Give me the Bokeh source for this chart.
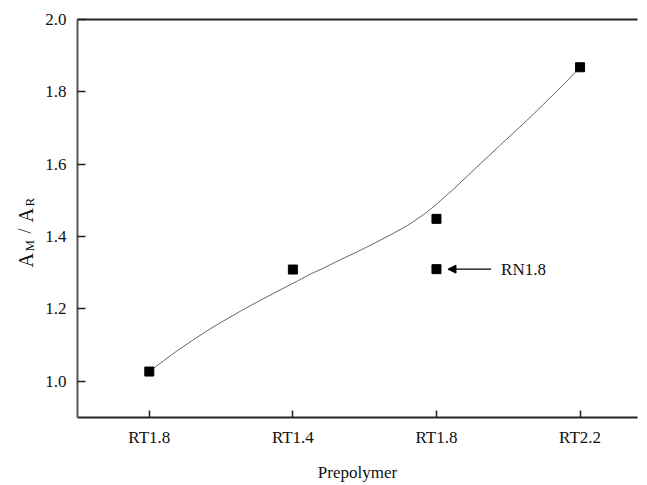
import math
from bokeh.plotting import figure
from bokeh.layouts import row
from bokeh.models import (Range1d, FixedTicker, LinearAxis, Label, Arrow, NormalHead,
                          NumeralTickFormatter)
from bokeh.core.properties import value
from bokeh.embed import file_html
from bokeh.resources import INLINE

# ---- data ----
categories = ["RT1.8", "RT1.4", "RT1.8", "RT2.2"]
cat_pos = [0, 1, 2, 3]
ratio = [1.027, 1.309, 1.449, 1.868]
rn_label = "RN1.8"
rn_pos = [2]
rn_ratio = [1.31]
curve_x = [0.0, 0.1, 0.2, 0.3, 0.4, 0.5, 0.635, 0.75, 0.865, 1.03, 1.12, 1.214, 1.33, 1.449,
           1.56, 1.681, 1.8, 1.911, 2.0, 2.05, 2.121, 2.27, 2.426, 2.659, 2.889, 3.0]
curve_y = [1.027, 1.057, 1.086, 1.113, 1.139, 1.163, 1.194, 1.219, 1.243, 1.277, 1.296, 1.313,
           1.336, 1.358, 1.380, 1.405, 1.431, 1.461, 1.489, 1.507, 1.532, 1.588, 1.646, 1.732,
           1.822, 1.868]
y_ticks = [1.0, 1.2, 1.4, 1.6, 1.8, 2.0]

FONT = "Liberation Serif"
LABEL_W = 40
TOP, BOTTOM = 19, 68  # frame borders shared by both panels

p = figure(width=647 - LABEL_W, height=485, output_backend="svg", toolbar_location=None,
           x_range=Range1d(-0.5, 3.4), y_range=Range1d(0.9, 2.0),
           min_border_left=77 - LABEL_W, min_border_right=10, min_border_top=TOP,
           min_border_bottom=BOTTOM)
p.outline_line_color = None
p.xgrid.visible = False
p.ygrid.visible = False
p.background_fill_color = "white"
p.border_fill_color = "white"

xa = p.xaxis[0]
xa.ticker = FixedTicker(ticks=cat_pos)
xa.major_label_overrides = {i: c for i, c in zip(cat_pos, categories)}
xa.minor_tick_line_color = None
xa.major_tick_in = 7
xa.major_tick_out = 0
xa.major_label_standoff = 10
xa.axis_line_width = 2
xa.axis_line_color = "#222222"
xa.major_tick_line_color = "#222222"
xa.major_tick_line_width = 1.5
xa.major_label_text_font = FONT
xa.major_label_text_font_size = "17px"
xa.major_label_text_color = "#111111"
xa.axis_label = "Prepolymer"
xa.axis_label_text_font = FONT
xa.axis_label_text_font_style = "normal"
xa.axis_label_text_font_size = "17px"
xa.axis_label_text_color = "#111111"
xa.axis_label_standoff = 13

ya = p.yaxis[0]
ya.ticker = FixedTicker(ticks=y_ticks)
ya.formatter = NumeralTickFormatter(format="0.0")
ya.minor_tick_line_color = None
ya.major_tick_in = 8
ya.major_tick_out = 0
ya.major_label_standoff = 11
ya.axis_line_width = 2
ya.axis_line_color = "#555555"
ya.major_tick_line_color = "#222222"
ya.major_tick_line_width = 1.5
ya.major_label_text_font = FONT
ya.major_label_text_font_size = "17px"
ya.major_label_text_color = "#111111"

top = LinearAxis(ticker=FixedTicker(ticks=[]), major_tick_in=0, major_tick_out=0,
                 minor_tick_in=0, minor_tick_out=0, major_label_text_font_size="0px",
                 axis_line_width=2, axis_line_color="#222222")
p.add_layout(top, "above")

p.line(curve_x, curve_y, line_color="#666666", line_width=1)
p.scatter(cat_pos, ratio, marker="square", size=9, fill_color="black", line_color="black")
p.scatter(rn_pos, rn_ratio, marker="square", size=9, fill_color="black", line_color="black")

p.add_layout(Arrow(x_start=2.38, y_start=rn_ratio[0], x_end=2.08, y_end=rn_ratio[0],
                   line_color="black", line_width=1.2,
                   end=NormalHead(size=8, fill_color="black", line_color="black")))
p.add_layout(Label(x=2.45, y=rn_ratio[0], text=rn_label, text_font=FONT,
                   text_font_size="17px", text_baseline="middle", text_color="#111111"))

# side strip for the rotated y-axis title A_M / A_R; its frame spans page rows TOP..485-BOTTOM
lab = figure(width=LABEL_W, height=485, output_backend="svg", toolbar_location=None,
             x_range=Range1d(0, LABEL_W), y_range=Range1d(485 - BOTTOM, TOP),
             x_axis_location=None, y_axis_location=None, min_border=0,
             min_border_top=TOP, min_border_bottom=BOTTOM, title=None)
lab.outline_line_color = None
lab.xgrid.visible = False
lab.ygrid.visible = False
lab.background_fill_color = "white"
lab.border_fill_color = "white"
parts = [("A", 25, 267, "20px"), ("M", 29, 251, "13px"), ("/", 24, 233, "18px"),
         ("A", 25, 222, "20px"), ("R", 29, 206, "13px")]
for t, cx, cy, fs in parts:
    lab.text(x=[cx], y=[cy], text=[t], angle=math.pi / 2, text_align="left",
             text_baseline="alphabetic", text_font=value(FONT),
             text_font_size=value(fs), text_color="#111111")

layout = row(lab, p, spacing=0)
open("out.html", "w").write(file_html(layout, INLINE))
